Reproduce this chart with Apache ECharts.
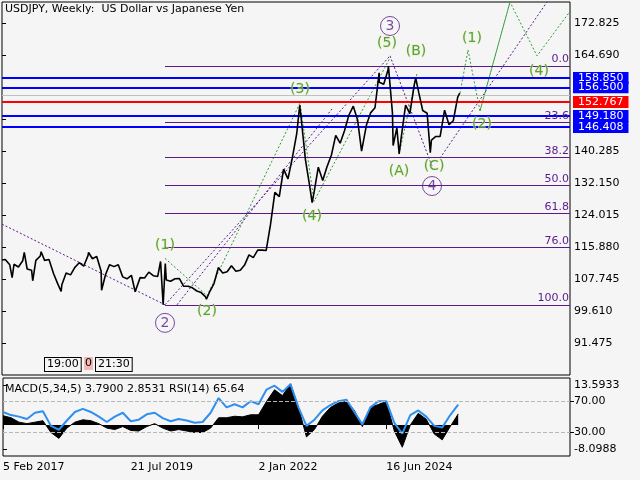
<!DOCTYPE html>
<html><head><meta charset="utf-8">
<script src="https://cdn.jsdelivr.net/npm/echarts@6/dist/echarts.min.js"></script>
<style>html,body{margin:0;background:#f5f5f5}#c{width:640px;height:480px}</style>
</head><body><div id="c"></div>
<script>
// price samples (date, close / extreme)
var priceDates = ['2017-02-05','2017-02-28','2017-03-31','2017-04-17','2017-04-30','2017-05-31','2017-06-30','2017-07-11','2017-07-31','2017-08-31','2017-09-08','2017-09-30','2017-10-31','2017-11-06','2017-11-30','2017-12-31',
 '2018-01-31','2018-02-28','2018-03-26','2018-03-31','2018-04-30','2018-05-31','2018-06-30','2018-07-31','2018-08-31','2018-09-30','2018-10-04','2018-10-31','2018-11-30','2018-12-31',
 '2019-01-03','2019-01-31','2019-02-28','2019-03-31','2019-04-30','2019-05-31','2019-06-30','2019-07-31','2019-08-26','2019-09-30','2019-10-31','2019-11-30','2019-12-31',
 '2020-01-31','2020-02-20','2020-03-09','2020-03-24','2020-03-31','2020-04-30','2020-05-31','2020-06-30','2020-07-31','2020-08-31','2020-09-30','2020-10-31','2020-11-30','2020-12-31',
 '2021-01-06','2021-01-31','2021-02-28','2021-03-31','2021-04-30','2021-05-31','2021-06-30','2021-07-31','2021-08-31','2021-09-30','2021-10-31','2021-11-30','2021-12-31',
 '2022-01-31','2022-02-28','2022-03-31','2022-04-30','2022-05-31','2022-06-30','2022-07-31','2022-08-31','2022-09-30','2022-10-21','2022-10-31','2022-11-30','2022-12-31',
 '2023-01-16','2023-01-31','2023-02-28','2023-03-31','2023-04-30','2023-05-31','2023-06-30','2023-07-31','2023-08-31','2023-09-30','2023-10-31','2023-11-13','2023-11-30','2023-12-28',
 '2024-01-31','2024-02-29','2024-03-31','2024-04-29','2024-04-30','2024-05-31','2024-06-30','2024-07-03','2024-07-31','2024-08-05','2024-08-31','2024-09-16','2024-09-30','2024-10-31','2024-11-30','2024-12-31',
 '2025-01-10','2025-01-31','2025-02-28','2025-03-31','2025-04-22','2025-04-30','2025-05-31','2025-06-30','2025-07-31','2025-08-31','2025-09-30','2025-10-31','2025-11-14'];
var prices = [112.6,112.7,111.4,108.1,111.5,110.8,112.4,114.5,110.3,110.0,107.3,112.5,113.6,114.7,112.5,112.7,
 109.2,106.7,104.6,106.3,109.3,108.8,110.7,111.9,111.0,113.7,114.5,112.9,113.5,109.7,
 104.9,108.9,111.4,110.9,111.4,108.3,107.8,108.7,104.5,108.1,108.0,109.5,108.6,
 108.4,112.2,101.2,111.7,107.5,107.2,107.8,107.9,105.9,105.9,105.5,104.7,104.3,103.2,
 102.6,104.7,106.6,110.7,109.3,109.6,111.1,109.7,110.0,111.3,113.9,113.2,115.1,
 115.1,115.0,121.7,129.8,128.7,135.7,133.2,138.7,144.7,151.9,148.7,138.1,131.1,
 127.2,130.1,136.2,132.8,136.3,139.3,144.3,142.3,145.5,149.4,151.7,151.9,148.2,140.3,
 146.9,150.0,151.3,160.2,157.8,157.3,160.9,161.9,150.0,141.7,146.2,139.6,143.6,152.0,149.8,157.2,
 158.9,155.2,150.6,149.9,139.9,143.1,144.0,144.0,150.7,147.0,148.0,154.0,155.0];

// indicator samples (weeks since 5 Feb 2017)
var indWeeks = [0,8,16,24,32,40,48,56,64,72,80,88,96,104,112,120,128,136,144,152,160,168,176,184,192,200,208,216,224,232,240,248,256,264,272,280,288,296,304,312,320,328,336,344,352,360,368,376,384,392,400,408,416,424,432,440,448,456];
var macd = [3.2,2.5,1.0,0.5,1.0,1.5,-2.5,-4.5,-1.0,1.0,1.8,1.5,0.5,-1.0,-1.5,-0.5,-1.8,-2.0,-0.5,0.5,-1.0,-2.0,-1.5,-2.0,-2.5,-2.5,-1.0,2.5,2.5,3.0,2.8,3.5,3.5,8,12,10,14,6,-4,-1.5,3,6,7.5,8,5,-0.5,6,7,8,-2,-7.5,0,4,2,-3,-5,-0.5,3.79];
var rsi = [56,52,50,47,55,57,38,33,45,56,60,56,50,43,50,55,44,46,53,55,48,44,47,45,42,43,55,74,62,66,62,70,66,85,90,82,92,62,38,46,58,65,70,72,56,40,62,70,70,42,28,52,58,50,38,36,52,65.64];

// horizontal levels
var blueLevels = [158.850, 156.500, 149.180, 146.408];
var redLevel = 152.767;
var fibStartWeek = 163;
var fibHigh = 161.9, fibLow = 101.2;
var fibRatios = [0, 23.6, 38.2, 50.0, 61.8, 76.0, 100.0];

// wave paths [week, price]
var purplePaths = [
  [[0,121.7],[163,101.2]],
  [[163,101.2],[388,164.5]],
  [[175,101.2],[330,151]],
  [[388,164.5],[430,136.5]],
  [[438,138.5],[545,178.2]]
];
var greenPaths = [
  [[163,113],[205,103.5],[298,152.5],[312,127.5],[388,164]],
  [[397,139.5],[415,160]],
  [[458,155],[466,166],[478,150.5],[508,178.2]],
  [[478,150.5],[508,178.2],[535,164.5],[570,176.5]]
];
var greenLabels = [[163,116.3,'(1)'],[205,99.6,'(2)'],[298,155.9,'(3)'],[310,123.8,'(4)'],[385,167.6,'(5)'],[414,165.6,'(B)'],[397,135.2,'(A)'],[432,136.3,'(C)'],[470,168.9,'(1)'],[480,147.1,'(2)'],[537,160.6,'(4)'],[510,179.5,'(3)']];
var purpleLabels = [[163,96.6,'2'],[388,172.1,'3'],[430,131.4,'4']];

var xTickValues = [0,128,256,384];
var xTickLabels = {0:'5 Feb 2017',128:'21 Jul 2019',256:'2 Jan 2022',384:'16 Jun 2024'};
var hiddenPriceTicks = ['156.555','148.420'];

var base = Date.UTC(2017,1,5);
function toWeek(s){ var p=s.split('-'); return (Date.UTC(+p[0],+p[1]-1,+p[2])-base)/604800000; }
var priceData = priceDates.map(function(d,i){ return [toWeek(d), prices[i]]; });
var macdData = indWeeks.map(function(w,i){ return [w, macd[i]]; });
var rsiData = indWeeks.map(function(w,i){ return [w, rsi[i]]; });

var font = 'DejaVu Sans';
var purple = '#5a1a8c', green = '#2f9a2f';

var levelLines = blueLevels.map(function(v){
  return {yAxis:v, lineStyle:{color:'#0000ff',width:2,type:'solid'},
    label:{show:true,position:'end',formatter:v.toFixed(3),backgroundColor:'#0000ff',color:'#fff',padding:[1,5,0,5],fontSize:11,fontFamily:font,distance:3}};
});
levelLines.push({yAxis:redLevel, lineStyle:{color:'#ff0000',width:2,type:'solid'},
  label:{show:true,position:'end',formatter:redLevel.toFixed(3),backgroundColor:'#ff0000',color:'#fff',padding:[1,5,0,5],fontSize:11,fontFamily:font,distance:3}});
levelLines.unshift({yAxis:154.5, lineStyle:{color:'#c0c0c0',width:1,type:'solid'},label:{show:false}});

var fibLines = fibRatios.map(function(r){
  var v = fibHigh - (fibHigh-fibLow)*r/100;
  return [{coord:[fibStartWeek,v],lineStyle:{color:purple,width:1,type:'solid',opacity:1}},
          {coord:[568,v],label:{show:true,position:'insideEndTop',formatter:r.toFixed(1),color:purple,fontSize:11,fontFamily:font,distance:1}}];
});

var series = [
  {type:'line',xAxisIndex:0,yAxisIndex:0,data:priceData,showSymbol:false,lineStyle:{color:'#000',width:1.6},z:5,
   markLine:{silent:true,symbol:'none',animation:false,data:levelLines.concat(fibLines),lineStyle:{color:purple,width:1,type:'solid',opacity:1},label:{show:false}}}
];
purplePaths.forEach(function(p){
  series.push({type:'line',xAxisIndex:0,yAxisIndex:0,data:p,showSymbol:false,lineStyle:{color:purple,width:1,type:[2,2]},z:3});
});
greenPaths.forEach(function(p){
  series.push({type:'line',xAxisIndex:0,yAxisIndex:0,data:p,showSymbol:false,lineStyle:{color:green,width:1,type:[2,2]},z:3});
});
series.push({type:'scatter',xAxisIndex:0,yAxisIndex:0,data:greenLabels,symbolSize:0,z:6,
  label:{show:true,position:'inside',formatter:function(p){return p.data[2];},color:'#2a8f2a',fontSize:14,fontFamily:font,textBorderColor:'rgba(235,235,150,0.9)',textBorderWidth:1}});
series.push({type:'scatter',xAxisIndex:0,yAxisIndex:0,data:purpleLabels,symbol:'circle',symbolSize:19,z:6,
  itemStyle:{color:'rgba(0,0,0,0)',borderColor:purple,borderWidth:1},
  label:{show:true,position:'inside',formatter:function(p){return p.data[2];},color:purple,fontSize:14,fontFamily:font}});
series.push({type:'line',xAxisIndex:1,yAxisIndex:1,data:macdData,showSymbol:false,lineStyle:{color:'#000',width:1},areaStyle:{color:'#000',opacity:1,origin:0},z:2});
series.push({type:'line',xAxisIndex:1,yAxisIndex:2,data:rsiData,showSymbol:false,lineStyle:{color:'#2f8fef',width:2},z:4,
  markLine:{silent:true,symbol:'none',animation:false,lineStyle:{color:'#b8b8b8',type:'dashed',width:1},label:{show:false},data:[{yAxis:70},{yAxis:30}]}});

var chart = echarts.init(document.getElementById('c'));
chart.setOption({
  animation:false,
  backgroundColor:'#f5f5f5',
  textStyle:{fontFamily:font},
  grid:[
    {left:2,right:70,top:2,height:373,show:true,borderColor:'#000',borderWidth:1,backgroundColor:'#f5f5f5'},
    {left:2,right:70,top:378,height:78,show:true,borderColor:'#000',borderWidth:1,backgroundColor:'#f5f5f5'}
  ],
  xAxis:[
    {type:'value',gridIndex:0,min:0,max:568,interval:128,axisLabel:{show:false},axisTick:{show:false},axisLine:{show:false},splitLine:{show:false}},
    {type:'value',gridIndex:1,min:0,max:568,axisLine:{show:false},splitLine:{show:false},
     axisTick:{show:true,length:4,customValues:xTickValues,lineStyle:{color:'#000'}},
     axisLabel:{show:true,align:'left',margin:6,color:'#000',fontSize:11,fontFamily:font,customValues:xTickValues,formatter:function(v){return xTickLabels[v]||'';}}}
  ],
  yAxis:[
    {type:'value',gridIndex:0,position:'right',min:83.34,max:178.2,interval:8.135,splitLine:{show:false},
     axisLine:{show:false},axisTick:{show:true,length:4,lineStyle:{color:'#000'}},
     axisLabel:{showMinLabel:false,showMaxLabel:false,color:'#000',fontSize:11,fontFamily:font,margin:4,
       formatter:function(v){var s=v.toFixed(3);return hiddenPriceTicks.indexOf(s)>=0?'':s;}}},
    {type:'value',gridIndex:1,position:'right',min:-10.47,max:15.97,splitLine:{show:false},axisLine:{show:false},
     axisTick:{show:true,length:4,customValues:[-8.0988,13.5933],lineStyle:{color:'#000'}},
     axisLabel:{color:'#000',fontSize:11,fontFamily:font,margin:4,customValues:[-8.0988,13.5933],formatter:function(v){return v.toFixed(4);}}},
    {type:'value',gridIndex:1,position:'right',min:-1,max:100,splitLine:{show:false},axisLine:{show:false},
     axisTick:{show:true,length:4,customValues:[30,70],lineStyle:{color:'#000'}},
     axisLabel:{color:'#000',fontSize:11,fontFamily:font,margin:4,customValues:[30,70],formatter:function(v){return v.toFixed(2);}}}
  ],
  graphic:[
    {type:'text',left:5,top:4,style:{text:'USDJPY, Weekly:  US Dollar vs Japanese Yen',fill:'#000',font:'11px '+font}},
    {type:'text',left:5,top:384,style:{text:'MACD(5,34,5) 3.7900 2.8531 RSI(14) 65.64',fill:'#000',font:'11px '+font}},
    {type:'text',left:44,top:357,style:{text:'19:00',fill:'#000',font:'11px '+font,backgroundColor:'#f5f5f5',borderColor:'#000',borderWidth:1,padding:[1,2]}},
    {type:'text',left:84,top:357,style:{text:'0',fill:'#000',font:'11px '+font,backgroundColor:'#f4b8b8',padding:[1,1]}},
    {type:'text',left:95,top:357,style:{text:'21:30',fill:'#000',font:'11px '+font,backgroundColor:'#f5f5f5',borderColor:'#000',borderWidth:1,padding:[1,2]}}
  ],
  series:series
});
</script></body></html>
